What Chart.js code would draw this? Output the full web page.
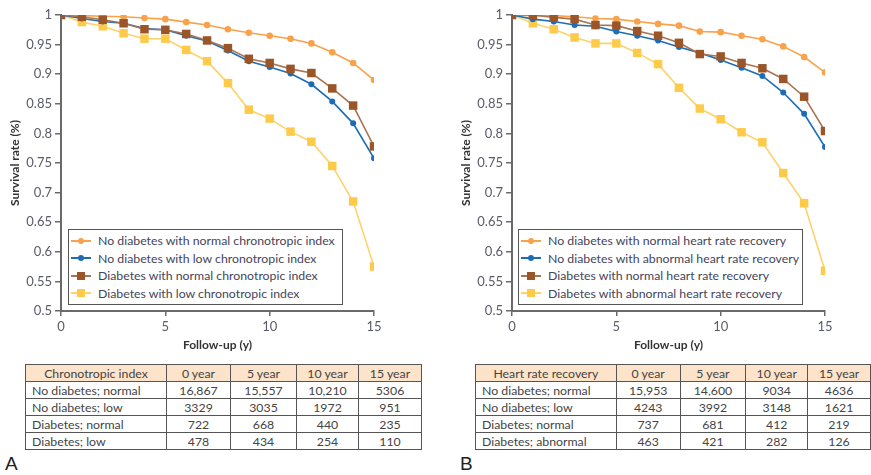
<!DOCTYPE html>
<html>
<head>
<meta charset="utf-8">
<script src="https://cdn.jsdelivr.net/npm/chart.js@4.4.0/dist/chart.umd.min.js"></script>
<style>
  body { margin: 0; background: #fff; width: 871px; height: 475px; position: relative; overflow: hidden; font-family: Lato, "Open Sans", sans-serif; }
  canvas.plot { position: absolute; top: 0; }
  .legend { position: absolute; top: 229px; height: 76px; border: 1.5px solid #555; background: #fff; box-sizing: border-box; }
  .legend .row { position: absolute; left: 2px; height: 17px; line-height: 17px; font-size: 12.3px; color: #45455a; white-space: nowrap; }
  .legend .mk { position: absolute; left: 0; top: 0; width: 20px; height: 17px; }
  .legend .mk .ln { position: absolute; left: 0; width: 20px; top: 7.5px; height: 2px; }
  .legend .mk .pt { position: absolute; }
  .legend .txt { position: absolute; left: 27px; top: 0; }
  table.counts { position: absolute; top: 364px; border-collapse: collapse; table-layout: fixed; font-size: 12.3px; color: #444; }
  table.counts td { border: 1px solid #555; height: 16px; line-height: 15px; padding: 0; text-align: center; white-space: nowrap; }
  table.counts td.lbl { text-align: left; padding-left: 6px; }
  table.counts tr.head td { background: #fde3c9; }
  .tag { position: absolute; top: 454px; font-family: "Liberation Sans", Arial, sans-serif; font-size: 19px; line-height: 19px; color: #222; }
</style>
</head>
<body>
<canvas id="chartA" class="plot" width="450" height="358" style="left:0px"></canvas>
<canvas id="chartB" class="plot" width="450" height="358" style="left:451px"></canvas>
<div id="legendA" class="legend" style="left:68px;width:275px"></div>
<div id="legendB" class="legend" style="left:518px;width:285px"></div>
<table id="tableA" class="counts" style="left:25px"></table>
<table id="tableB" class="counts" style="left:475px"></table>
<div class="tag" style="left:5px">A</div>
<div class="tag" style="left:460px">B</div>
<script>
// follow-up years and axis ticks
const years = [0, 1, 2, 3, 4, 5, 6, 7, 8, 9, 10, 11, 12, 13, 14, 15];
const xTicks = [0, 5, 10, 15];
const yTicks = [0.5, 0.55, 0.6, 0.65, 0.7, 0.75, 0.8, 0.85, 0.9, 0.95, 1];

// panel A - chronotropic index
const labelsA = ['No diabetes with normal chronotropic index', 'No diabetes with low chronotropic index',
                 'Diabetes with normal chronotropic index', 'Diabetes with low chronotropic index'];
const noDmNormalA = [1.0, 0.999, 0.998, 0.997, 0.995, 0.993, 0.988, 0.983, 0.976, 0.970, 0.965, 0.960, 0.952, 0.937, 0.919, 0.890];
const noDmLowA    = [1.0, 0.994, 0.989, 0.986, 0.977, 0.975, 0.965, 0.956, 0.940, 0.922, 0.912, 0.901, 0.883, 0.854, 0.817, 0.758];
const dmNormalA   = [1.0, 0.997, 0.992, 0.986, 0.976, 0.975, 0.968, 0.957, 0.944, 0.926, 0.919, 0.909, 0.902, 0.876, 0.847, 0.778];
const dmLowA      = [1.0, 0.988, 0.981, 0.969, 0.960, 0.960, 0.941, 0.922, 0.885, 0.840, 0.825, 0.803, 0.786, 0.745, 0.685, 0.575];

// panel B - heart rate recovery
const labelsB = ['No diabetes with normal heart rate recovery', 'No diabetes with abnormal heart rate recovery',
                 'Diabetes with normal heart rate recovery', 'Diabetes with abnormal heart rate recovery'];
const noDmNormalB = [1.0, 0.999, 0.999, 0.997, 0.994, 0.993, 0.989, 0.985, 0.982, 0.972, 0.971, 0.965, 0.959, 0.947, 0.929, 0.903];
const noDmAbnB    = [1.0, 0.993, 0.989, 0.983, 0.981, 0.972, 0.965, 0.957, 0.946, 0.936, 0.924, 0.911, 0.897, 0.869, 0.833, 0.777];
const dmNormalB   = [1.0, 1.0, 0.996, 0.993, 0.983, 0.982, 0.973, 0.965, 0.953, 0.934, 0.930, 0.919, 0.910, 0.892, 0.862, 0.804];
const dmAbnB      = [1.0, 0.986, 0.976, 0.962, 0.952, 0.952, 0.936, 0.917, 0.877, 0.842, 0.824, 0.802, 0.785, 0.733, 0.682, 0.568];

// tables of patients at risk
const tableHeadA = ['Chronotropic index', '0 year', '5 year', '10 year', '15 year'];
const tableRowsA = ['No diabetes; normal', 'No diabetes; low', 'Diabetes; normal', 'Diabetes; low'];
const tableValsA = [['16,867', '15,557', '10,210', '5306'], ['3329', '3035', '1972', '951'],
                    ['722', '668', '440', '235'], ['478', '434', '254', '110']];
const tableHeadB = ['Heart rate recovery', '0 year', '5 year', '10 year', '15 year'];
const tableRowsB = ['No diabetes; normal', 'No diabetes; low', 'Diabetes; normal', 'Diabetes; abnormal'];
const tableValsB = [['15,953', '14,600', '9034', '4636'], ['4243', '3992', '3148', '1621'],
                    ['737', '681', '412', '219'], ['463', '421', '282', '126']];
const colWidths = [141, 64, 66, 62, 63];

// series styles: orange, blue, brown, yellow
const styles = [
  { line: '#f8a24c', fill: '#f8a24c', shape: 'circle', r: 3.3, order: 2 },
  { line: '#1e6db4', fill: '#1e6db4', shape: 'circle', r: 3, order: 1 },
  { line: '#a97451', fill: '#9a5628', shape: 'rect', r: 6, order: 0 },
  { line: '#fdd26a', fill: '#fdca4a', shape: 'rect', r: 6, order: 3 }
];

const tickFont = { family: 'Lato', size: 13 };
const tickColor = '#5a5b6a';
const axisColor = '#6a6a6a';

function makeChart(id, labels, series) {
  const datasets = series.map(function (vals, i) {
    const s = styles[i];
    return {
      label: labels[i],
      data: vals.map(function (v, k) { return { x: years[k], y: v }; }),
      borderColor: s.line,
      backgroundColor: s.fill,
      pointBackgroundColor: s.fill,
      pointBorderColor: s.fill,
      pointBorderWidth: 0,
      pointStyle: s.shape,
      pointRadius: s.r,
      borderWidth: 1.6,
      order: s.order,
      tension: 0
    };
  });
  return new Chart(document.getElementById(id).getContext('2d'), {
    type: 'line',
    data: { datasets: datasets },
    options: {
      responsive: false,
      animation: false,
      layout: { padding: { top: 15, right: 76, bottom: 0, left: 0 } },
      plugins: { legend: { display: false }, tooltip: { enabled: false } },
      scales: {
        x: {
          type: 'linear', min: 0, max: 15,
          afterFit: function (s) { s.height = 47; },
          afterBuildTicks: function (s) { s.ticks = xTicks.map(function (v) { return { value: v }; }); },
          ticks: { font: tickFont, color: tickColor, padding: 3, maxRotation: 0 },
          grid: { drawOnChartArea: false, tickLength: 5, color: axisColor, lineWidth: 1.5 },
          border: { color: axisColor, width: 2 },
          title: { display: true, text: 'Follow-up (y)', color: '#333', font: { family: 'Lato', size: 12, weight: 'bold' }, padding: { top: 0, bottom: 6 } }
        },
        y: {
          min: 0.5, max: 1,
          afterFit: function (s) { s.width = 61; },
          afterBuildTicks: function (s) { s.ticks = yTicks.map(function (v) { return { value: v }; }); },
          ticks: { font: tickFont, color: tickColor, padding: 3, callback: function (v) { return String(+v.toFixed(2)); } },
          grid: { drawOnChartArea: false, tickLength: 6, color: axisColor, lineWidth: 1.5 },
          border: { color: axisColor, width: 2 },
          title: { display: true, text: 'Survival rate (%)', color: '#333', font: { family: 'Lato', size: 12, weight: 'bold' }, padding: { top: 8, bottom: 0 } }
        }
      }
    }
  });
}

function makeLegend(id, labels) {
  const box = document.getElementById(id);
  labels.forEach(function (text, i) {
    const s = styles[i];
    const row = document.createElement('div');
    row.className = 'row';
    row.style.top = (2 + i * 17.5) + 'px';
    const mk = document.createElement('span');
    mk.className = 'mk';
    const ln = document.createElement('span');
    ln.className = 'ln';
    ln.style.background = s.line;
    const pt = document.createElement('span');
    pt.className = 'pt';
    const size = s.shape === 'rect' ? 8 : 6;
    pt.style.width = size + 'px';
    pt.style.height = size + 'px';
    pt.style.left = (10 - size / 2) + 'px';
    pt.style.top = (8.5 - size / 2) + 'px';
    pt.style.background = s.fill;
    if (s.shape === 'circle') pt.style.borderRadius = '50%';
    mk.appendChild(ln);
    mk.appendChild(pt);
    const t = document.createElement('span');
    t.className = 'txt';
    t.textContent = text;
    row.appendChild(mk);
    row.appendChild(t);
    box.appendChild(row);
  });
}

function makeTable(id, head, rows, vals) {
  const tbl = document.getElementById(id);
  const cg = document.createElement('colgroup');
  colWidths.forEach(function (w) {
    const c = document.createElement('col');
    c.style.width = w + 'px';
    cg.appendChild(c);
  });
  tbl.appendChild(cg);
  const hr = document.createElement('tr');
  hr.className = 'head';
  head.forEach(function (h) {
    const td = document.createElement('td');
    td.textContent = h;
    hr.appendChild(td);
  });
  tbl.appendChild(hr);
  rows.forEach(function (name, i) {
    const tr = document.createElement('tr');
    const td0 = document.createElement('td');
    td0.className = 'lbl';
    td0.textContent = name;
    tr.appendChild(td0);
    vals[i].forEach(function (v) {
      const td = document.createElement('td');
      td.textContent = v;
      tr.appendChild(td);
    });
    tbl.appendChild(tr);
  });
}

makeChart('chartA', labelsA, [noDmNormalA, noDmLowA, dmNormalA, dmLowA]);
makeChart('chartB', labelsB, [noDmNormalB, noDmAbnB, dmNormalB, dmAbnB]);
makeLegend('legendA', labelsA);
makeLegend('legendB', labelsB);
makeTable('tableA', tableHeadA, tableRowsA, tableValsA);
makeTable('tableB', tableHeadB, tableRowsB, tableValsB);
</script>
</body>
</html>
